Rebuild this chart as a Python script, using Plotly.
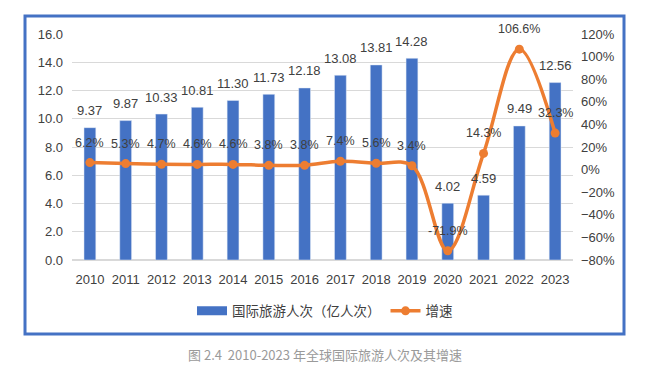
import plotly.graph_objects as go

years = ["2010", "2011", "2012", "2013", "2014", "2015", "2016",
         "2017", "2018", "2019", "2020", "2021", "2022", "2023"]
arrivals = [9.37, 9.87, 10.33, 10.81, 11.30, 11.73, 12.18,
            13.08, 13.81, 14.28, 4.02, 4.59, 9.49, 12.56]
growth = [6.2, 5.3, 4.7, 4.6, 4.6, 3.8, 3.8, 7.4, 5.6, 3.4, -71.9, 14.3, 106.6, 32.3]

BLUE = "#4472C4"
ORANGE = "#ED7D31"
TXT = "#404040"
FONT = "Liberation Sans, Arial, Noto Sans CJK SC, sans-serif"
CJK = "Noto Sans CJK SC, sans-serif"

fig = go.Figure()
fig.add_trace(go.Bar(x=years, y=arrivals, marker_color=BLUE, width=0.33,
                     showlegend=False, name="国际旅游人次（亿人次）"))
# legend stand-in for the bars (wide swatch like the original)
fig.add_trace(go.Scatter(x=years, y=[None] * len(years), mode="lines",
                         line=dict(color=BLUE, width=9),
                         name="国际旅游人次（亿人次）"))
fig.add_trace(go.Scatter(x=years, y=growth, yaxis="y2", mode="lines+markers",
                         line=dict(color=ORANGE, width=3.5, shape="spline", smoothing=1.0),
                         marker=dict(color=ORANGE, size=9),
                         name="增速"))

annotations = []
for i, v in enumerate(arrivals):
    annotations.append(dict(x=i, y=v, xref="x", yref="y", text=f"{v:.2f}",
                            showarrow=False, yshift=17,
                            font=dict(size=13, color=TXT, family=FONT)))
for i, g in enumerate(growth):
    annotations.append(dict(x=i, y=g, xref="x", yref="y2", text=f"{g:.1f}%",
                            showarrow=False, yshift=20,
                            font=dict(size=12.5, color=TXT, family=FONT)))
annotations.append(dict(x=0.505, y=-0.42, xref="paper", yref="paper",
                        xanchor="center", yanchor="middle",
                        text="图 2.4  2010-2023 年全球国际旅游人次及其增速",
                        showarrow=False, font=dict(size=13, color="#9a9a9a", family=CJK)))

fig.update_layout(
    width=650, height=368,
    margin=dict(l=72, r=77, t=34, b=108),
    paper_bgcolor="white", plot_bgcolor="white",
    xaxis=dict(type="category", categoryorder="array", categoryarray=years,
               range=[-0.5, len(years) - 0.5], autorange=False,
               showgrid=False, showline=False, ticks="", ticklabelstandoff=10,
               tickfont=dict(size=13, color=TXT, family=FONT)),
    yaxis=dict(range=[0, 16], dtick=2, tickformat=".1f", showgrid=True,
               gridcolor="#D9D9D9", gridwidth=1, zeroline=True, zerolinecolor="#D9D9D9",
               showline=False, ticks="", ticklabelstandoff=8,
               tickfont=dict(size=13, color=TXT, family=FONT)),
    yaxis2=dict(range=[-80, 120], dtick=20, ticksuffix="%", overlaying="y", side="right",
                showgrid=False, zeroline=False, showline=False, ticks="", ticklabelstandoff=7,
                tickfont=dict(size=13, color=TXT, family=FONT)),
    legend=dict(orientation="h", x=0.505, xanchor="center", y=-0.226, yanchor="middle",
                font=dict(size=13.5, color=TXT, family=CJK), bgcolor="rgba(0,0,0,0)"),
    annotations=annotations,
    shapes=[dict(type="rect", xref="paper", yref="paper",
                 x0=-0.0938, x1=1.1018, y0=-0.3274, y1=1.0796,
                 line=dict(color=BLUE, width=3), fillcolor="rgba(0,0,0,0)", layer="below")],
)

fig.write_html("out.html", config={"displayModeBar": False},
               post_script="document.body.style.margin='0';")
